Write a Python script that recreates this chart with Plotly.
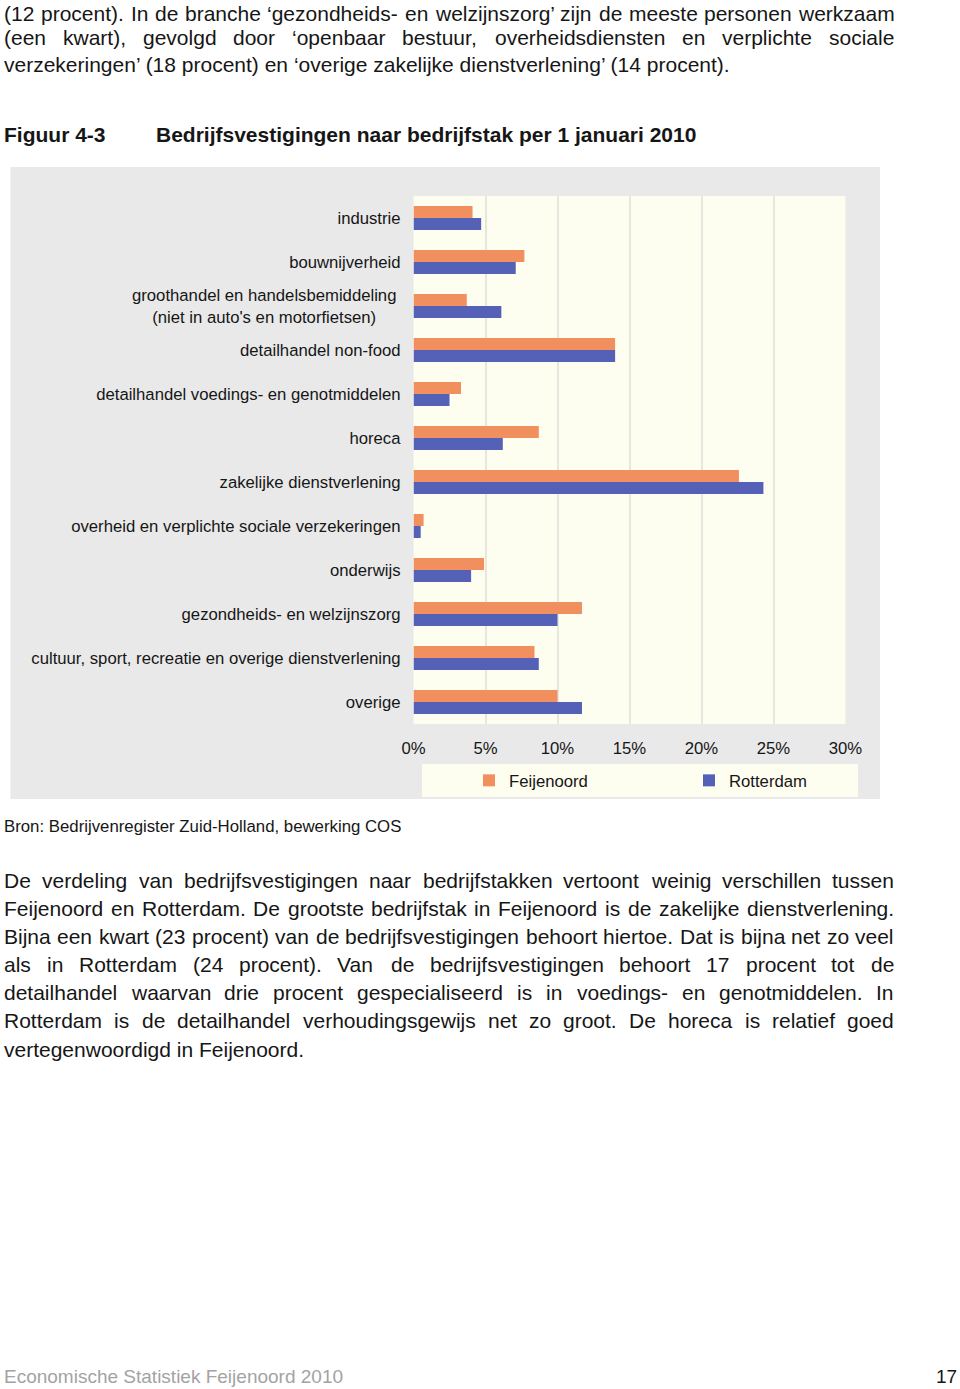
import plotly.graph_objects as go

W, H = 960, 1389
FONT = "Liberation Sans, Arial, Helvetica, sans-serif"
INK = "#161616"

categories = [
    "industrie",
    "bouwnijverheid",
    "groothandel en handelsbemiddeling<br>(niet in auto's en motorfietsen)",
    "detailhandel non-food",
    "detailhandel voedings- en genotmiddelen",
    "horeca",
    "zakelijke dienstverlening",
    "overheid en verplichte sociale verzekeringen",
    "onderwijs",
    "gezondheids- en welzijnszorg",
    "cultuur, sport, recreatie en overige dienstverlening",
    "overige",
]
feijenoord = [4.1, 7.7, 3.7, 14.0, 3.3, 8.7, 22.6, 0.7, 4.9, 11.7, 8.4, 10.0]
rotterdam = [4.7, 7.1, 6.1, 14.0, 2.5, 6.2, 24.3, 0.5, 4.0, 10.0, 8.7, 11.7]
x_ticks = [0, 5, 10, 15, 20, 25, 30]
x_tick_labels = ["0%", "5%", "10%", "15%", "20%", "25%", "30%"]

para_top = [
    "(12 procent). In de branche ‘gezondheids- en welzijnszorg’ zijn de meeste personen werkzaam",
    "(een kwart), gevolgd door ‘openbaar bestuur, overheidsdiensten en verplichte sociale",
    "verzekeringen’ (18 procent) en ‘overige zakelijke dienstverlening’ (14 procent).",
]
para_bottom = [
    "De verdeling van bedrijfsvestigingen naar bedrijfstakken vertoont weinig verschillen tussen",
    "Feijenoord en Rotterdam. De grootste bedrijfstak in Feijenoord is de zakelijke dienstverlening.",
    "Bijna een kwart (23 procent) van de bedrijfsvestigingen behoort hiertoe. Dat is bijna net zo veel",
    "als in Rotterdam (24 procent). Van de bedrijfsvestigingen behoort 17 procent tot de",
    "detailhandel waarvan drie procent gespecialiseerd is in voedings- en genotmiddelen. In",
    "Rotterdam is de detailhandel verhoudingsgewijs net zo groot. De horeca is relatief goed",
    "vertegenwoordigd in Feijenoord.",
]

# Arial / Liberation Sans advance widths (1/1000 em), used to justify lines
WIDTHS = {" ": 278, "(": 333, ")": 333, ",": 278, "-": 333, ".": 278, ":": 278,
          "'": 191, "‘": 222, "’": 222, "%": 889}
WIDTHS.update({d: 556 for d in "0123456789"})
WIDTHS.update(dict(zip("abcdefghijklmnopqrstuvwxyz",
                       [556, 556, 500, 556, 556, 278, 556, 556, 222, 222, 500, 222, 833,
                        556, 556, 556, 556, 333, 500, 278, 556, 500, 722, 500, 500, 500])))
WIDTHS.update(dict(zip("ABCDEFGHIJKLMNOPQRSTUVWXYZ",
                       [667, 667, 722, 722, 667, 611, 778, 722, 278, 500, 667, 556, 833,
                        722, 778, 667, 778, 722, 667, 611, 722, 667, 944, 667, 667, 611])))


def px(x):
    return x / W


def py(y):
    return 1 - y / H


def text_width(s, size):
    return sum(WIDTHS.get(c, 556) for c in s) * size / 1000


def text_ann(text, x, y, size, color=INK, anchor="left", bold=False):
    return dict(text=f"<b>{text}</b>" if bold else text, x=px(x), y=py(y),
                xref="paper", yref="paper", xanchor=anchor, yanchor="middle",
                showarrow=False, borderpad=0, font=dict(family=FONT, size=size, color=color))


def paragraph(lines, ys, size=21, x0=3, x1=893):
    anns = []
    for i, (line, y) in enumerate(zip(lines, ys)):
        words = line.split(" ")
        if i == len(lines) - 1 or len(words) < 2:
            anns.append(text_ann(line, x0, y, size))
            continue
        widths = [text_width(w, size) for w in words]
        gap = (x1 - x0 - sum(widths)) / (len(words) - 1)
        x = x0
        for w, wd in zip(words, widths):
            anns.append(text_ann(w, x, y, size))
            x += wd + gap
    return anns


fig = go.Figure()
fig.add_bar(y=categories, x=feijenoord, orientation="h", name="Feijenoord",
            marker=dict(color="#f28f5e", line_width=0))
fig.add_bar(y=categories, x=rotterdam, orientation="h", name="Rotterdam",
            marker=dict(color="#5561b6", line_width=0))

tick_text = ["" if "<br>" in c else c for c in categories]

fig.update_layout(
    width=W, height=H,
    margin=dict(l=0, r=0, t=0, b=0, autoexpand=False),
    paper_bgcolor="white",
    plot_bgcolor="rgba(0,0,0,0)",
    barmode="group", bargap=0.455, bargroupgap=0,
    font=dict(family=FONT, size=16.7, color=INK),
    showlegend=True,
    legend=dict(orientation="h", x=px(469), xanchor="left", y=py(780.5), yanchor="middle",
                bgcolor="rgba(0,0,0,0)", entrywidth=175, entrywidthmode="pixels",
                font=dict(family=FONT, size=16.7, color=INK), traceorder="normal"),
    xaxis=dict(domain=[px(413.5), px(845.5)], range=[0, 30], tickvals=x_ticks,
               ticktext=x_tick_labels, showgrid=True, gridcolor="#e7e7df", gridwidth=2,
               zeroline=False, showline=False, ticks="", ticklabelstandoff=12,
               automargin=False, fixedrange=True),
    yaxis=dict(domain=[py(724), py(196)], autorange="reversed", tickvals=categories,
               ticktext=tick_text, showgrid=False, zeroline=False, showline=False,
               ticks="", ticklabelstandoff=12, automargin=False, fixedrange=True),
)

shapes = [
    # grey chart frame, cream plot area, cream legend box
    dict(type="rect", xref="paper", yref="paper", x0=px(10.5), x1=px(880), y0=py(799), y1=py(167),
         fillcolor="#e9e9e9", line_width=0, layer="below"),
    dict(type="rect", xref="paper", yref="paper", x0=px(413.5), x1=px(845.5), y0=py(724), y1=py(196),
         fillcolor="#fdfdf0", line_width=0, layer="below"),
    dict(type="rect", xref="paper", yref="paper", x0=px(422), x1=px(858), y0=py(797), y1=py(764),
         fillcolor="#fdfdf0", line_width=0, layer="below"),
]
fig.update_layout(shapes=shapes)

annotations = []
annotations += paragraph(para_top, [13, 37, 65])
annotations.append(text_ann("Figuur 4-3", 3, 134, 21, bold=True))
annotations.append(text_ann("Bedrijfsvestigingen naar bedrijfstak per 1 januari 2010", 155, 134, 21, bold=True))
annotations.append(dict(text=categories[2], x=px(397), xref="paper", y=categories[2], yref="y",
                        xanchor="right", yanchor="middle", align="center", showarrow=False,
                        borderpad=0, font=dict(family=FONT, size=16.7, color=INK)))
annotations.append(text_ann("Bron: Bedrijvenregister Zuid-Holland, bewerking COS", 3, 826, 16.8))
annotations += paragraph(para_bottom, [880 + i * 28.2 for i in range(len(para_bottom))])
annotations.append(text_ann("Economische Statistiek Feijenoord 2010", 3, 1376, 19, color="#a3a3a3"))
annotations.append(text_ann("17", 958, 1376, 19, anchor="right"))
fig.update_layout(annotations=annotations)

fig.write_html("out.html", config={"displayModeBar": False},
               post_script="document.body.style.margin = '0';")
